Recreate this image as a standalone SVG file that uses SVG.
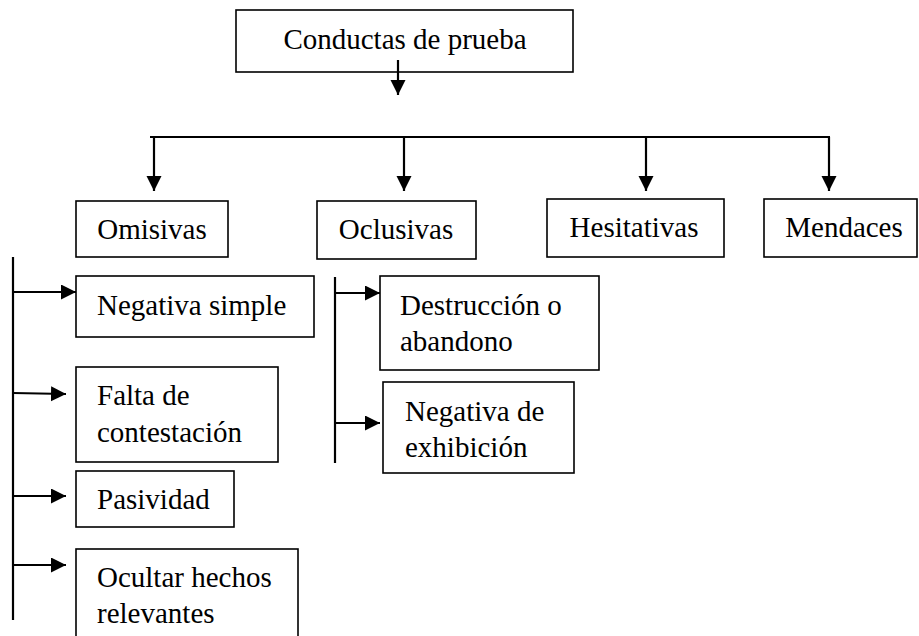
<svg xmlns="http://www.w3.org/2000/svg" width="919" height="636" viewBox="0 0 919 636">
  <style>
    .box { fill: #ffffff; stroke: #000000; stroke-width: 1.6; }
    .lbl { font-family: "Liberation Serif", "Times New Roman", serif; font-size: 29px; fill: #000000; }
    .mid { text-anchor: middle; }
    .con { fill: none; stroke: #000000; stroke-width: 2.2; }
  </style>
  <defs>
    <marker id="ah" markerUnits="userSpaceOnUse" markerWidth="16" markerHeight="16" refX="15" refY="7.5" orient="auto">
      <path d="M0,0 L15,7.5 L0,15 z" fill="#000000"/>
    </marker>
  </defs>
  <rect width="919" height="636" fill="#ffffff"/>

  <g id="n-conductas">
    <rect class="box" x="236" y="10" width="337" height="62"/>
    <text class="lbl mid" x="405" y="49">Conductas de prueba</text>
  </g>

  <g id="n-omisivas">
    <rect class="box" x="76" y="201" width="152" height="56"/>
    <text class="lbl mid" x="152" y="239">Omisivas</text>
  </g>
  <g id="n-oclusivas">
    <rect class="box" x="317" y="201" width="159" height="58"/>
    <text class="lbl mid" x="396" y="239">Oclusivas</text>
  </g>
  <g id="n-hesitativas">
    <rect class="box" x="547" y="199" width="177" height="58"/>
    <text class="lbl mid" x="634" y="237">Hesitativas</text>
  </g>
  <g id="n-mendaces">
    <rect class="box" x="764" y="199" width="153" height="58"/>
    <text class="lbl mid" x="844" y="237">Mendaces</text>
  </g>

  <g id="n-negativa-simple">
    <rect class="box" x="76" y="276" width="238" height="61"/>
    <text class="lbl" x="97" y="315">Negativa simple</text>
  </g>
  <g id="n-falta">
    <rect class="box" x="76" y="367" width="202" height="95"/>
    <text class="lbl" x="97" y="405">Falta de</text>
    <text class="lbl" x="97" y="442">contestación</text>
  </g>
  <g id="n-pasividad">
    <rect class="box" x="76" y="471" width="158" height="56"/>
    <text class="lbl" x="97" y="509">Pasividad</text>
  </g>
  <g id="n-ocultar">
    <rect class="box" x="76" y="549" width="222" height="100"/>
    <text class="lbl" x="97" y="587">Ocultar hechos</text>
    <text class="lbl" x="97" y="623">relevantes</text>
  </g>

  <g id="n-destruccion">
    <rect class="box" x="380" y="276" width="219" height="94"/>
    <text class="lbl" x="400" y="315">Destrucción o</text>
    <text class="lbl" x="400" y="351">abandono</text>
  </g>
  <g id="n-negativa-exhibicion">
    <rect class="box" x="383" y="382" width="191" height="91"/>
    <text class="lbl" x="405" y="421">Negativa de</text>
    <text class="lbl" x="405" y="457">exhibición</text>
  </g>

  <g id="connectors">
    <line class="con" x1="398" y1="60" x2="398" y2="95" marker-end="url(#ah)"/>
    <polyline class="con" points="150,137 830,137"/>
    <line class="con" x1="154" y1="137" x2="154" y2="191" marker-end="url(#ah)"/>
    <line class="con" x1="404" y1="137" x2="404" y2="191" marker-end="url(#ah)"/>
    <line class="con" x1="646" y1="137" x2="646" y2="191" marker-end="url(#ah)"/>
    <line class="con" x1="829" y1="137" x2="829" y2="191" marker-end="url(#ah)"/>

    <line class="con" x1="13" y1="257" x2="13" y2="620"/>
    <line class="con" x1="13" y1="292" x2="76" y2="292" marker-end="url(#ah)"/>
    <line class="con" x1="13" y1="393" x2="66" y2="394" marker-end="url(#ah)"/>
    <line class="con" x1="13" y1="496" x2="66" y2="496" marker-end="url(#ah)"/>
    <line class="con" x1="13" y1="565" x2="66" y2="565" marker-end="url(#ah)"/>

    <line class="con" x1="335" y1="277" x2="335" y2="463"/>
    <line class="con" x1="335" y1="293" x2="380" y2="293" marker-end="url(#ah)"/>
    <line class="con" x1="335" y1="423" x2="380" y2="423" marker-end="url(#ah)"/>
  </g>
</svg>
